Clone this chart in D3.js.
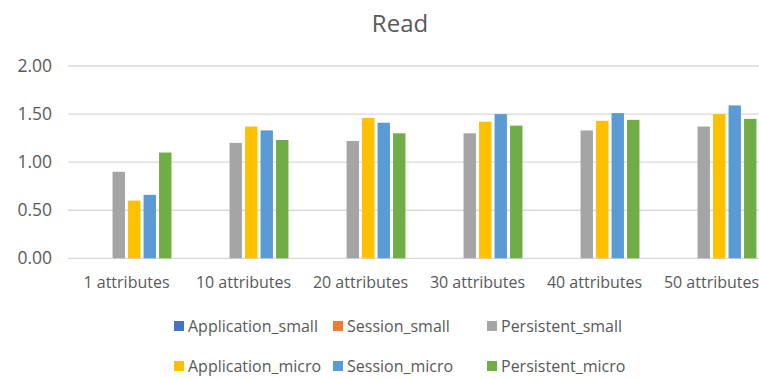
<!DOCTYPE html>
<html>
<head>
<meta charset="utf-8">
<script src="https://cdn.jsdelivr.net/npm/d3@7/dist/d3.min.js"></script>
<style>
  html, body { margin: 0; padding: 0; background: #fff; }
  svg { display: block; font-family: "Open Sans", sans-serif; }
</style>
</head>
<body>
<svg id="chart" width="759" height="379"></svg>
<script>
// Read timings per attribute count
const categories = ["1 attributes", "10 attributes", "20 attributes", "30 attributes", "40 attributes", "50 attributes"];
const seriesNames = ["Application_small", "Session_small", "Persistent_small", "Application_micro", "Session_micro", "Persistent_micro"];
const seriesColors = ["#4472C4", "#ED7D31", "#A5A5A5", "#FFC000", "#5B9BD5", "#70AD47"];

const applicationSmall = [0, 0, 0, 0, 0, 0];
const sessionSmall     = [0, 0, 0, 0, 0, 0];
const persistentSmall  = [0.90, 1.20, 1.22, 1.30, 1.33, 1.37];
const applicationMicro = [0.60, 1.37, 1.46, 1.42, 1.43, 1.50];
const sessionMicro     = [0.66, 1.33, 1.41, 1.50, 1.51, 1.59];
const persistentMicro  = [1.10, 1.23, 1.30, 1.38, 1.44, 1.45];

const yTicks = [0, 0.5, 1.0, 1.5, 2.0];
const titleText = "Read";

const seriesValues = [applicationSmall, sessionSmall, persistentSmall, applicationMicro, sessionMicro, persistentMicro];

const svg = d3.select("#chart");
const textColor = "#595959";
const gridColor = "#d9d9d9";

const x0 = d3.scaleBand().domain(categories).range([68, 770]).paddingInner(0).paddingOuter(0);
const x1 = d3.scaleBand().domain(seriesNames).range([0, x0.bandwidth()]).paddingInner(0.2).paddingOuter(0.874);
const y = d3.scaleLinear().domain([0, 2]).range([258.3, 66]);

// title
svg.append("text")
  .attr("x", 400).attr("y", 32)
  .attr("text-anchor", "middle")
  .attr("font-size", 24)
  .attr("fill", textColor)
  .text(titleText);

// gridlines
svg.append("g")
  .selectAll("line")
  .data(yTicks)
  .join("line")
  .attr("x1", 68).attr("x2", 770)
  .attr("y1", d => y(d)).attr("y2", d => y(d))
  .attr("stroke", gridColor)
  .attr("stroke-width", 1.3);

// y axis labels
const yAxis = d3.axisLeft(y).tickValues(yTicks).tickFormat(d3.format(".2f")).tickSize(0).tickPadding(0);
const yG = svg.append("g").attr("transform", "translate(52,0)").call(yAxis);
yG.select(".domain").remove();
yG.selectAll("text").attr("font-size", 17.5).attr("fill", textColor).attr("font-family", "Open Sans, sans-serif");

// bars
const groups = svg.append("g")
  .selectAll("g")
  .data(categories)
  .join("g")
  .attr("transform", d => `translate(${x0(d)},0)`);

groups.selectAll("rect")
  .data((c, ci) => seriesNames.map((s, si) => ({ s, v: seriesValues[si][ci], color: seriesColors[si] })))
  .join("rect")
  .attr("x", d => x1(d.s))
  .attr("width", x1.bandwidth())
  .attr("y", d => y(d.v))
  .attr("height", d => y(0) - y(d.v))
  .attr("fill", d => d.color);

// x axis labels
const xAxis = d3.axisBottom(x0).tickSize(0).tickPadding(0);
const xG = svg.append("g").attr("transform", "translate(0,276)").call(xAxis);
xG.select(".domain").remove();
xG.selectAll("text").attr("font-size", 16).attr("fill", textColor).attr("font-family", "Open Sans, sans-serif").attr("dy", "0.75em");

// legend
const legendCols = [174, 333, 487];
const legendRows = [321, 361];
const legend = svg.append("g")
  .selectAll("g")
  .data(seriesNames)
  .join("g")
  .attr("transform", (d, i) => `translate(${legendCols[i % 3]},${legendRows[Math.floor(i / 3)]})`);
legend.append("rect")
  .attr("width", 10).attr("height", 10)
  .attr("fill", (d, i) => seriesColors[i]);
legend.append("text")
  .attr("x", 14).attr("y", 11)
  .attr("font-size", 16)
  .attr("fill", textColor)
  .text(d => d);
</script>
</body>
</html>
